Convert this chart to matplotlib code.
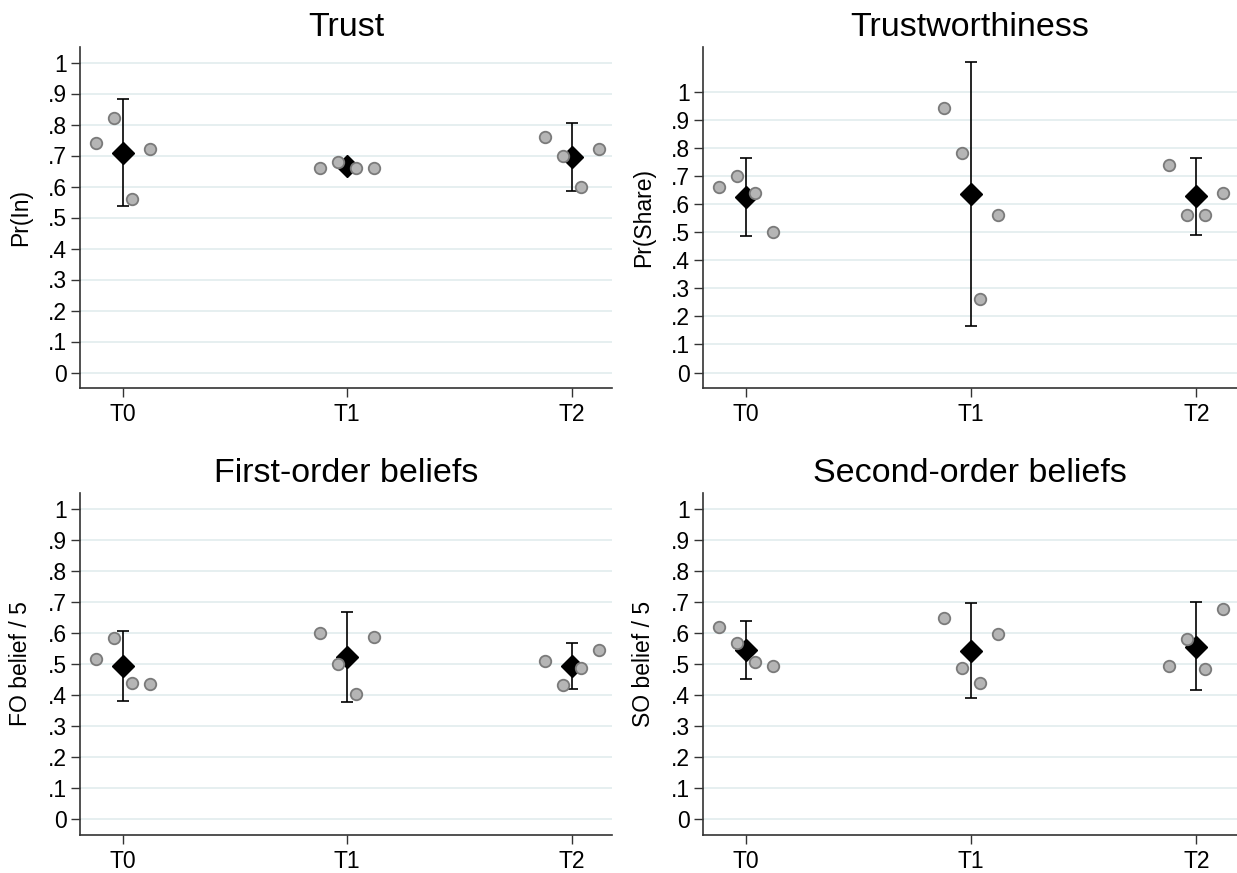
import matplotlib
matplotlib.use("Agg")
import matplotlib.pyplot as plt
import numpy as np

plt.rcParams['font.family'] = ['Liberation Sans', 'DejaVu Sans']

categories = ["T0", "T1", "T2"]
offsets = [-0.12, -0.04, 0.04, 0.12]
yticks = [0, .1, .2, .3, .4, .5, .6, .7, .8, .9, 1]
ytick_labels = ["0", ".1", ".2", ".3", ".4", ".5", ".6", ".7", ".8", ".9", "1"]

titles = ["Trust", "Trustworthiness", "First-order beliefs", "Second-order beliefs"]
ylabels = ["Pr(In)", "Pr(Share)", "FO belief / 5", "SO belief / 5"]

trust_means = [0.709, 0.665, 0.695]
trust_lo = [0.537, 0.652, 0.586]
trust_hi = [0.883, 0.680, 0.805]
trust_pts = [[0.741, 0.821, 0.560, 0.720],
             [0.660, 0.679, 0.660, 0.660],
             [0.760, 0.700, 0.600, 0.720]]

tw_means = [0.625, 0.635, 0.628]
tw_lo = [0.486, 0.166, 0.490]
tw_hi = [0.764, 1.104, 0.763]
tw_pts = [[0.661, 0.701, 0.641, 0.501],
          [0.941, 0.781, 0.261, 0.560],
          [0.740, 0.560, 0.560, 0.641]]

fo_means = [0.495, 0.524, 0.494]
fo_lo = [0.382, 0.379, 0.418]
fo_hi = [0.605, 0.667, 0.567]
fo_pts = [[0.515, 0.584, 0.440, 0.436],
          [0.600, 0.500, 0.405, 0.588],
          [0.509, 0.432, 0.488, 0.544]]

so_means = [0.545, 0.543, 0.556]
so_lo = [0.453, 0.391, 0.415]
so_hi = [0.639, 0.695, 0.700]
so_pts = [[0.620, 0.567, 0.506, 0.492],
          [0.648, 0.488, 0.440, 0.595],
          [0.494, 0.580, 0.484, 0.676]]

panels = [
    (trust_means, trust_lo, trust_hi, trust_pts),
    (tw_means, tw_lo, tw_hi, tw_pts),
    (fo_means, fo_lo, fo_hi, fo_pts),
    (so_means, so_lo, so_hi, so_pts),
]

W, H = 1237, 873
fig = plt.figure(figsize=(W / 100, H / 100), dpi=100)

# axes rectangles in pixels: left, right, top, bottom
rects = [
    (80, 612, 47, 388),
    (703, 1237, 47, 388),
    (80, 612, 493, 835),
    (703, 1237, 493, 835),
]

dark = '#333333'
for i, (means, lo, hi, pts) in enumerate(panels):
    l, r, t, b = rects[i]
    ax = fig.add_axes([l / W, 1 - b / H, (r - l) / W, (b - t) / H])
    x = np.arange(len(categories))
    means = np.array(means)
    lo = np.array(lo)
    hi = np.array(hi)
    ax.errorbar(x, means, yerr=[means - lo, hi - means], fmt='none',
                ecolor='black', elinewidth=1.2, capsize=4.3, capthick=1.2, zorder=3)
    ax.plot(x, means, linestyle='none', marker='D', markersize=11,
            color='black', zorder=4)
    for j in range(len(categories)):
        xs = [x[j] + o for o in offsets]
        ax.plot(xs, pts[j], linestyle='none', marker='o', markersize=8.3,
                markerfacecolor='#b5b5b5', markeredgecolor='#7a7a7a',
                markeredgewidth=1.3, zorder=5)
    allv = np.concatenate([[0, 1], lo, hi, np.ravel(pts)])
    vmin, vmax = allv.min(), allv.max()
    span = vmax - vmin
    ax.set_ylim(vmin - 0.05 * span, vmax + 0.05 * span)
    ax.set_xlim(-0.19, 2.18)
    ax.set_yticks(yticks)
    ax.set_yticklabels(ytick_labels)
    ax.set_xticks(x)
    ax.set_xticklabels(categories)
    ax.yaxis.grid(True, color='#e6eff0', linewidth=1.4, zorder=0)
    ax.set_axisbelow(True)
    for s in ['top', 'right']:
        ax.spines[s].set_visible(False)
    for s in ['left', 'bottom']:
        ax.spines[s].set_color(dark)
        ax.spines[s].set_linewidth(1.2)
    ax.tick_params(axis='both', direction='out', length=6.5, width=1.0,
                   color=dark, labelsize=16.5, labelcolor='black')
    ax.tick_params(axis='y', pad=3)
    ax.tick_params(axis='x', pad=4)
    ax.set_title(titles[i], fontsize=24.5, pad=8)
    ax.set_ylabel(ylabels[i], fontsize=16.5)
    ax.yaxis.set_label_coords(-0.09, 0.5)

fig.savefig("out.png", dpi=100, facecolor='white')
